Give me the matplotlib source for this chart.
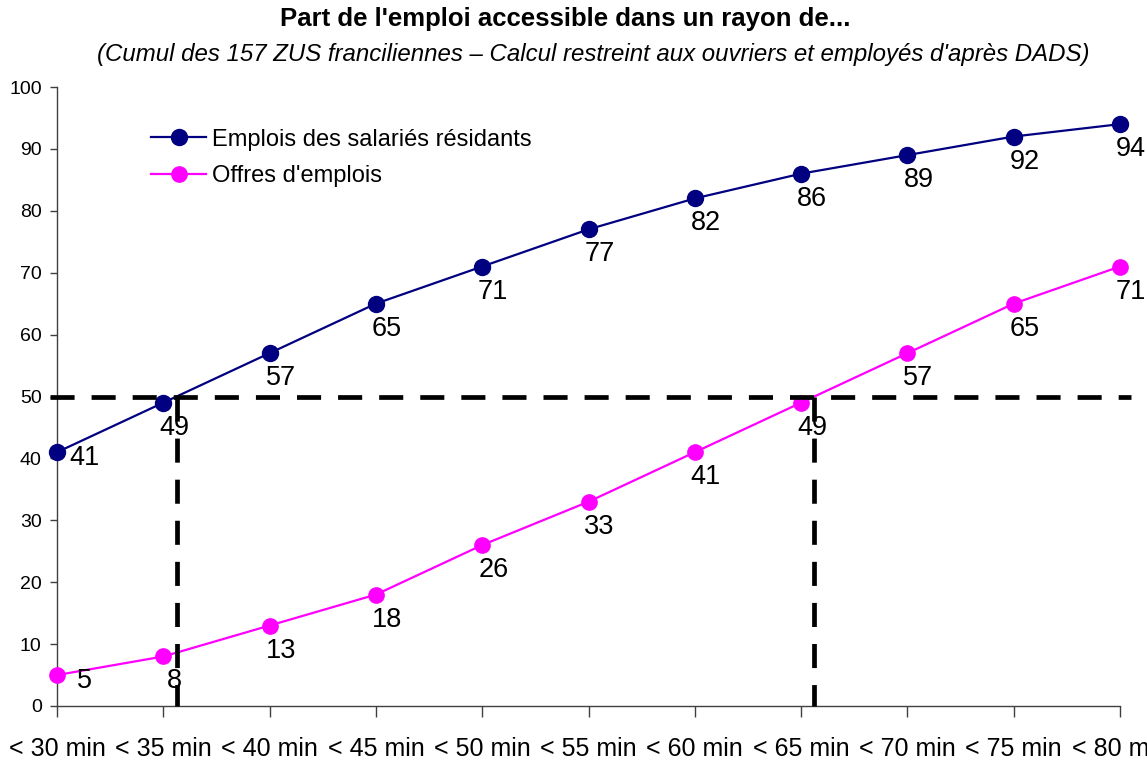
import numpy as np
import matplotlib
matplotlib.use("Agg")
import matplotlib.pyplot as plt

plt.rcParams['font.family'] = ['Liberation Sans Narrow', 'Liberation Sans', 'DejaVu Sans']

categories = ["< 30 min", "< 35 min", "< 40 min", "< 45 min", "< 50 min", "< 55 min",
              "< 60 min", "< 65 min", "< 70 min", "< 75 min", "< 80 min"]
emplois_residents = [41, 49, 57, 65, 71, 77, 82, 86, 89, 92, 94]
offres_emplois = [5, 8, 13, 18, 26, 33, 41, 49, 57, 65, 71]
seuil = 50

BLUE = "#000080"
PINK = "#FF00FF"

fig = plt.figure(figsize=(11.47, 7.63), dpi=100)
ax = fig.add_axes([57 / 1147, 1 - 706 / 763, (1120 - 57) / 1147, (706 - 87) / 763])

x = np.arange(len(categories))

ax.plot(x, emplois_residents, color=BLUE, lw=1.6, marker="o", ms=11.5,
        label="Emplois des salariés résidants", zorder=4, clip_on=False)
ax.plot(x, offres_emplois, color=PINK, lw=1.6, marker="o", ms=11,
        label="Offres d'emplois", zorder=4, clip_on=False)

# value labels, set below-right of each point
def label_series(vals):
    for i, v in enumerate(vals):
        off = (8, -18) if i > 0 else (20, -4)
        ax.annotate(str(v), (x[i], v), xytext=off, textcoords="offset points",
                    ha="center", va="center", fontsize=19.5, color="black",
                    annotation_clip=False, zorder=6)

label_series(emplois_residents)
label_series(offres_emplois)

# 50 % threshold and the crossing times of each series
cross_res = np.interp(seuil, emplois_residents, x)
cross_off = np.interp(seuil, offres_emplois, x)
dash = dict(color="black", lw=3.4, dashes=(5.1, 3.6), clip_on=False, zorder=5)
ax.plot([-0.065, 10.1], [seuil, seuil], **dash)
ax.plot([cross_res, cross_res], [seuil, 0], **dash)
ax.plot([cross_off, cross_off], [seuil, 0], **dash)

ax.set_xlim(0, len(categories) - 1)
ax.set_ylim(0, 100)
ax.set_yticks(range(0, 101, 10))
ax.set_xticks(x)
ax.set_xticklabels(categories, fontsize=18)
ax.tick_params(axis="y", labelsize=14, length=5, width=1, color="#404040", pad=6)
ax.tick_params(axis="x", length=8, width=1, color="#404040", pad=14)
for s in ("top", "right"):
    ax.spines[s].set_visible(False)
for s in ("left", "bottom"):
    ax.spines[s].set_color("#404040")
    ax.spines[s].set_linewidth(1)

leg = ax.legend(loc="upper left", bbox_to_anchor=(0.08, 0.948), frameon=False,
                fontsize=17, handlelength=2.3, handletextpad=0.25, labelspacing=0.62,
                borderaxespad=0)

fig.text(565 / 1147, 1 - 19 / 763, "Part de l'emploi accessible dans un rayon de...",
         ha="center", va="center", fontsize=18.5, fontweight="bold")
fig.text(593 / 1147, 1 - 55 / 763,
         "(Cumul des 157 ZUS franciliennes \u2013 Calcul restreint aux ouvriers et employés d'après DADS)",
         ha="center", va="center", fontsize=17.3, fontstyle="italic")

fig.savefig("out.png", dpi=100)
